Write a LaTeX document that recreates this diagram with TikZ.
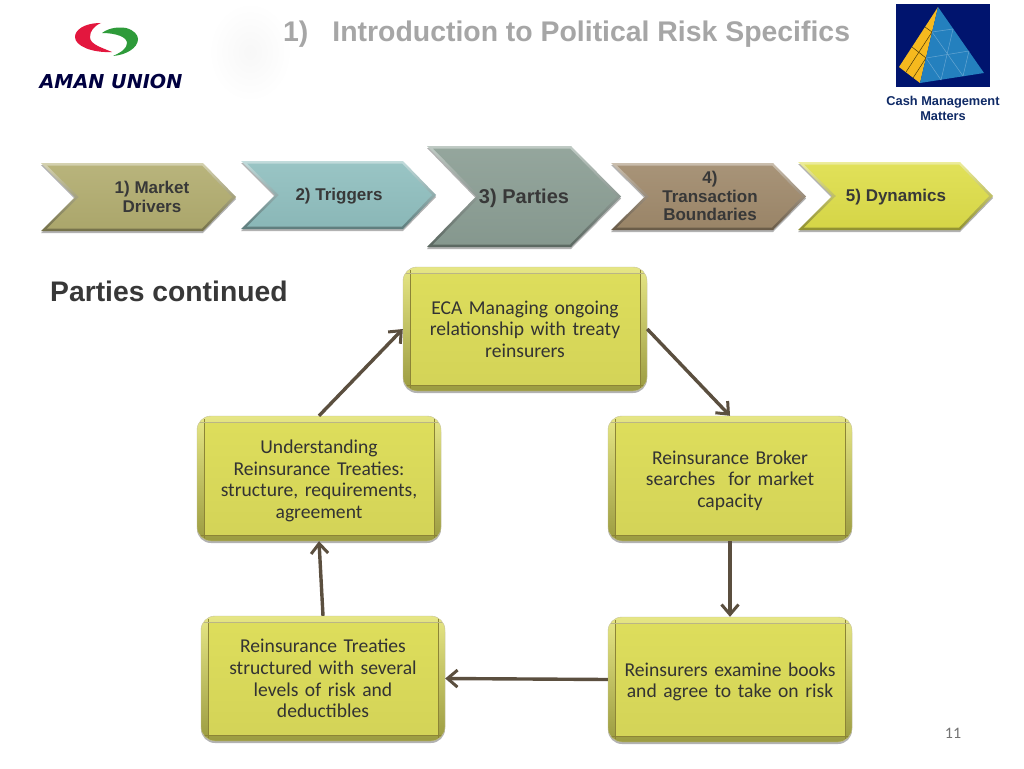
\documentclass[tikz,border=0pt]{standalone}
\usepackage{fontspec}
\setmainfont{Liberation Sans}
\newfontfamily\bodyfont{Carlito}
\newfontfamily\logofont{DejaVu Sans}
\usetikzlibrary{arrows.meta,shadows,calc,fadings}
\definecolor{arrowbrown}{HTML}{5B4F3F}
\definecolor{boxyellow}{HTML}{DEDE5C}
\definecolor{boxline}{HTML}{8C8436}
\definecolor{chevolive}{HTML}{B2AD70}
\definecolor{chevteal}{HTML}{90BFBF}
\definecolor{chevgrey}{HTML}{8B9E94}
\definecolor{chevbrown}{HTML}{A08A6C}
\definecolor{chevyellow}{HTML}{DEDE4A}
\definecolor{navytext}{HTML}{0F2A66}
\definecolor{pyrblue}{HTML}{00146E}
\definecolor{pyrface}{HTML}{2480BE}
\definecolor{pyrgold}{HTML}{F6B91E}
\tikzset{
  softshadow/.style={drop shadow={shadow xshift=0pt,shadow yshift=-2pt,opacity=.3,fill=black}},
  stepbox/.style={rounded corners=14pt,minimum width=244pt,minimum height=124pt,
    top color=boxyellow!75!white,bottom color=boxyellow!70!black,draw=boxline!50,
    softshadow,text width=236pt,align=center,text=black!80,
    font=\bodyfont\fontsize{19.6}{21.6}\selectfont,
    path picture={
      \shade[sharp corners,top color=boxyellow,bottom color=boxyellow!95!black]
        ($(path picture bounding box.north west)+(7pt,-6pt)$) rectangle
        ($(path picture bounding box.south east)+(-7pt,6pt)$);
      \draw[sharp corners,boxline,line width=1pt]
        ($(path picture bounding box.north west)+(7pt,-3pt)$) --
        ($(path picture bounding box.south west)+(7pt,3pt)$);
      \draw[sharp corners,boxline,line width=1pt]
        ($(path picture bounding box.north east)+(-7pt,-3pt)$) --
        ($(path picture bounding box.south east)+(-7pt,3pt)$);
      \draw[sharp corners,boxline!60,line width=.6pt]
        ($(path picture bounding box.north west)+(3pt,-6pt)$) --
        ($(path picture bounding box.north east)+(-3pt,-6pt)$);
      \draw[sharp corners,boxline,line width=1pt]
        ($(path picture bounding box.south west)+(3pt,6pt)$) --
        ($(path picture bounding box.south east)+(-3pt,6pt)$);
    }},
  tallbox/.style={stepbox,minimum height=125pt},
  steparrow/.style={draw=arrowbrown,line width=3.4pt,-{Straight Barb[length=10pt,width=17pt,line width=3pt]}},
  chevlabel/.style={align=center,text=black!78,font=\bfseries\fontsize{17}{18.8}\selectfont},
}
% name, left, right, tip of top edge, notch, top, bottom, colour
\newcommand{\chevron}[8]{
  \path[softshadow,top color=#8!55!white,bottom color=#8!65!black]
    (#2,#6) -- (#4,#6) -- (#3,{(#6+#7)/2}) -- (#4,#7) -- (#2,#7) -- (#5,{(#6+#7)/2}) -- cycle;
  \shade[top color=#8!92!white,bottom color=#8!96!black]
    (#2+6,#6+2.5) -- (#4-1,#6+2.5) -- (#3-4,{(#6+#7)/2}) -- (#4-1,#7-2.5) -- (#2+6,#7-2.5) -- (#5+4,{(#6+#7)/2}) -- cycle;
}
\newcommand{\lowline}{\rule{0pt}{18pt}}
\begin{document}
\begin{tikzpicture}[x=1pt,y=-1pt]
\useasboundingbox (0,0) rectangle (1024,768);
\fill[white] (0,0) rectangle (1024,768);

% faint mark behind the title
\shade[inner color=black!3,outer color=white,draw=none] (250,52) ellipse (42 and 50);

% logo
\definecolor{logored}{HTML}{E3173E}
\definecolor{logogreen}{HTML}{2E9B3A}
\fill[logored] (101,23) .. controls (84,23) and (75,30) .. (75,37) .. controls (75,46) and (92,53) .. (112,52) .. controls (100,47) and (90,44) .. (90,37) .. controls (90,31) and (94,26) .. (101,23) -- cycle;
\fill[logogreen] (102,33) .. controls (110,27) and (120,27) .. (126,28) .. controls (134,30) and (138,35) .. (138,39) .. controls (138,48) and (126,55) .. (113,56) .. controls (122,52) and (127,48) .. (127,43) .. controls (127,37) and (116,33) .. (102,33) -- cycle;
\node[anchor=center,text=black!75!blue,font=\logofont\bfseries\itshape\fontsize{19.2}{19}\selectfont,inner sep=0pt] (logotext) at (111,82) {AMAN UNION};

% title
\node[anchor=west,inner sep=0pt,text=black!35,font=\bfseries\fontsize{28.4}{28}\selectfont] (title) at (283,34) {1)\hspace{24pt}Introduction to Political Risk Specifics};

% pyramid badge
\fill[pyrblue] (896,4) rectangle (990,87);
\fill[pyrgold] (938,7) -- (899,67) -- (920,83) -- cycle;
\fill[pyrface] (938,7) -- (984,73) -- (920,83) -- cycle;
\draw[pyrface!70!white,line width=.5pt] (953,29) -- (932,32) (969,51) -- (926,58);
\draw[pyrface!70!white,line width=.5pt] (932,32) -- (963,76) (926,58) -- (941,80);
\draw[pyrface!70!white,line width=.5pt] (953,29) -- (941,80) (969,51) -- (963,76);
\draw[black!70!pyrgold,line width=.5pt] (906,72) -- (932,32) (913,78) -- (926,58);
\draw[black!70!pyrgold,line width=.5pt] (925,27) -- (932,32) (912,47) -- (926,58);
\node[align=center,text=navytext,font=\bfseries\fontsize{12.8}{15}\selectfont] (badge) at (943,108.5) {Cash Management\\Matters};

% top row
\chevron{drivers}{41}{236}{203}{75}{163}{231}{chevolive}
\chevron{triggers}{241}{436}{403}{275}{161}{229}{chevteal}
\chevron{parties}{427}{621}{571}{476}{146}{247}{chevgrey}
\chevron{boundaries}{611}{806}{773}{645}{163}{230}{chevbrown}
\chevron{dynamics}{798}{993}{960}{832}{162}{230}{chevyellow}
\node[chevlabel] (driverstext) at (152,197) {1) Market\\Drivers};
\node[chevlabel] (triggerstext) at (339,196) {2) Triggers};
\node[chevlabel,font=\bfseries\fontsize{20}{20}\selectfont] (partiestext) at (524,198) {3) Parties};
\node[chevlabel] (boundariestext) at (710,196) {4)\\Transaction\\Boundaries};
\node[chevlabel] (dynamicstext) at (896,197.5) {5) Dynamics};

\node[anchor=west,inner sep=0pt,text=black!78,font=\bfseries\fontsize{28.3}{28}\selectfont] (heading) at (50,291) {Parties continued};

% cycle
\node[stepbox] (eca) at (525,329) {ECA Managing ongoing\\relationship with treaty\\reinsurers};
\node[tallbox] (broker) at (730,478.5) {\lowline Reinsurance Broker\\searches\ \ for market\\capacity};
\node[tallbox] (examine) at (730,679.5) {\lowline Reinsurers examine books\\and agree to take on risk};
\node[tallbox] (structured) at (323,678.5) {Reinsurance Treaties\\structured with several\\levels of risk and\\deductibles};
\node[tallbox] (understanding) at (319,478.5) {\lowline Understanding\\Reinsurance Treaties:\\structure, requirements,\\agreement};
\draw[steparrow] (eca.east) -- (broker.north);
\draw[steparrow] (broker.south) -- (examine.north);
\draw[steparrow] (examine.west) -- (structured.east);
\draw[steparrow] (structured.north) -- (understanding.south);
\draw[steparrow] (understanding.north) -- (eca.west);

\node[text=black!55,font=\bodyfont\fontsize{16}{16}\selectfont] (pagenum) at (953,733) {11};
\end{tikzpicture}
\end{document}
